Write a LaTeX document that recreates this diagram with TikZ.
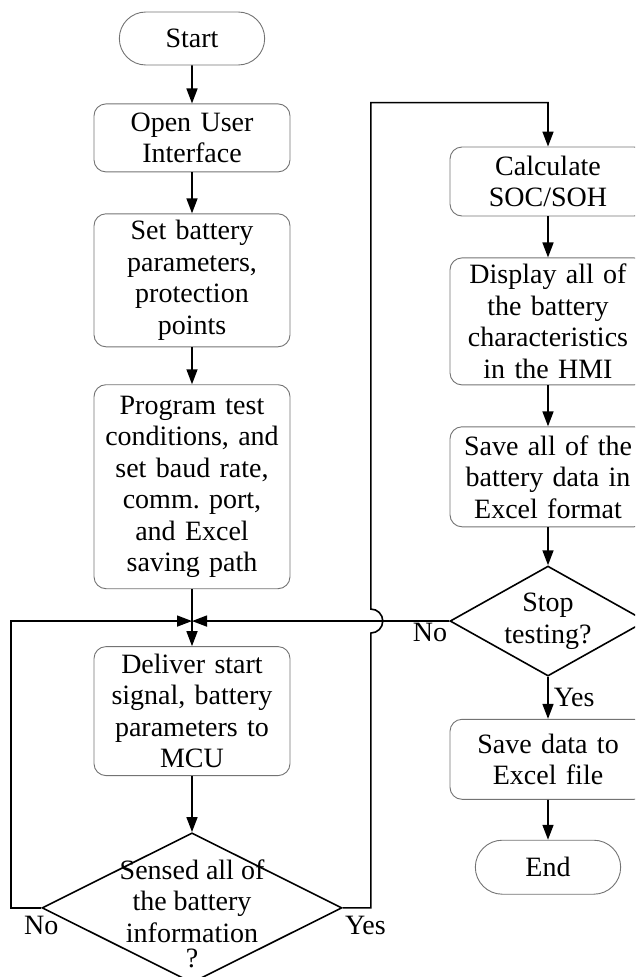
\documentclass[tikz,border=0pt]{standalone}
\usepackage{fontspec}
\setmainfont{Liberation Serif}
\frenchspacing
\usetikzlibrary{arrows.meta, positioning, shapes.geometric, shapes.misc, calc}

\tikzset{
    box/.style={rectangle, rounded corners=12pt, draw=black!55, line width=0.9pt,
                minimum width=196pt, text width=190pt, inner xsep=3pt, align=center,
                font=\fontsize{28}{31.5}\selectfont},
    term/.style={rounded rectangle, draw=black!55, line width=0.9pt,
                 minimum width=152pt, minimum height=53pt,
                 font=\fontsize{28}{31.5}\selectfont},
    decision/.style={diamond, draw=black, line width=1.6pt, inner sep=0pt},
    dtext/.style={align=center, inner sep=0pt, font=\fontsize{28}{31.5}\selectfont},
    line/.style={draw, line width=1.6pt, -{Triangle[length=15pt, width=11pt]}},
    lbl/.style={inner sep=2pt, font=\fontsize{28}{31.5}\selectfont}
}

\begin{document}
\begin{tikzpicture}[x=1pt, y=1pt, node distance=41pt]
    \useasboundingbox (0,0) rectangle (635,-977);
    \clip (0,0) rectangle (635,-977);

    % left column
    \node[term] (start) at (192,-38.5) {Start};
    \node[box, minimum height=68pt, below=38pt of start] (open) {Open User\\Interface};
    \node[box, minimum height=133pt, below=of open] (setpar) {Set battery\\parameters,\\protection\\points};
    \node[box, minimum height=204pt, below=37pt of setpar] (prog) {Program test\\conditions, and\\set baud rate,\\comm. port,\\and Excel\\saving path};
    \node[box, minimum height=129pt, below=57pt of prog] (deliver) {Deliver start\\signal, battery\\parameters to\\MCU};
    \node[decision, minimum width=300pt, minimum height=150pt, below=56pt of deliver,
          label={[dtext, yshift=-6pt]center:Sensed all of\\the battery\\information\\[-6pt]?}] (sensed) {};

    % right column
    \node[box, minimum height=69pt] (calc) at (548,-181.5) {Calculate\\SOC/SOH};
    \node[box, minimum height=127pt, below=of calc] (display) {Display all of\\the battery\\characteristics\\in the HMI};
    \node[box, minimum height=100pt, below=of display] (saveall) {Save all of the\\battery data in\\Excel format};
    \node[decision, minimum width=196pt, minimum height=110pt, below=38pt of saveall,
          label={[dtext]center:Stop\\testing?}] (stop) {};
    \node[box, minimum height=80pt, below=42pt of stop] (savefile) {Save data to\\Excel file};
    \node[term, minimum height=54pt, below=40pt of savefile] (end) {End};

    \coordinate (join) at (prog.south |- stop.west);

    \draw[line] (start) -- (open);
    \draw[line] (open) -- (setpar);
    \draw[line] (setpar) -- (prog);
    \draw[line] (prog) -- (deliver);
    \draw[line] (deliver) -- (sensed);
    \draw[line] (sensed.west) -- ++(-30pt,0) |- (join);
    \draw[line] (stop.west) -- (join);
    \draw[line] (sensed.east) -- ++(28pt,0) coordinate (hopx)
        -- ($(hopx |- stop.west)+(0,-12pt)$) arc[start angle=-90, end angle=90, radius=12pt]
        -- ($(hopx |- calc.north)+(0,44pt)$) -| (calc.north);

    \draw[line] (calc) -- (display);
    \draw[line] (display) -- (saveall);
    \draw[line] (saveall) -- (stop);
    \draw[line] (stop) -- node[lbl, right=3pt] (yesstop) {Yes} (savefile);
    \draw[line] (savefile) -- (end);

    \node[lbl, anchor=north east] (nostop) at (stop.west) {No};
    \node[lbl, anchor=north, yshift=-6pt] (nosensed) at (sensed.west) {No};
    \node[lbl, anchor=north west, yshift=-6pt] (yessensed) at (sensed.east) {Yes};
\end{tikzpicture}
\end{document}
